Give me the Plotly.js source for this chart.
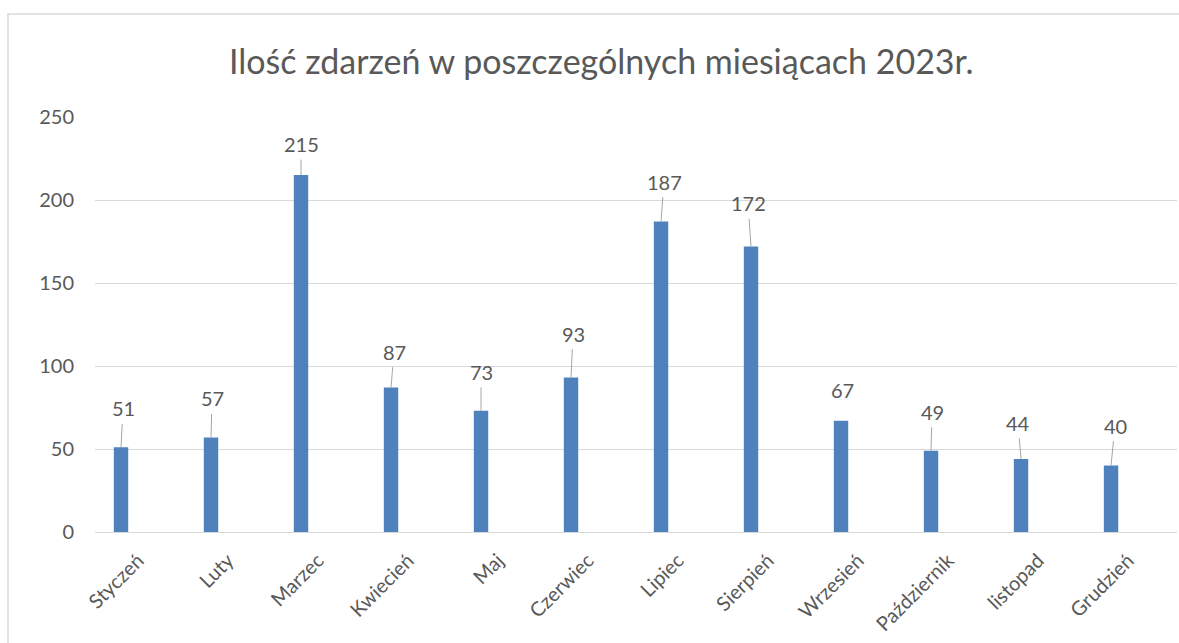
<!DOCTYPE html>
<html>
<head>
<meta charset="utf-8">
<script src="https://cdn.plot.ly/plotly-3.0.1.min.js"></script>
<style>html,body{margin:0;padding:0;background:#fff;}#chart{width:1179px;height:643px;}</style>
</head>
<body>
<div id="chart"></div>
<script>
const months = ["Styczeń","Luty","Marzec","Kwiecień","Maj","Czerwiec","Lipiec","Sierpień","Wrzesień","Październik","listopad","Grudzień"];
const counts = [51,57,215,87,73,93,187,172,67,49,44,40];
const chartTitle = "Ilość zdarzeń w poszczególnych miesiącach 2023r.";
const yTicks = [0,50,100,150,200,250];
// label placement offsets in px (callout position relative to bar top)
const labelDx = [2,1,0,3,0,2,3,-3,1,1,-3,4];
const labelDy = [-39,-39,-31,-36,-39,-44,-40,-43,-31,-39,-36,-40];
const showLeader = [true,true,true,true,true,true,true,true,false,true,true,true];

const grey = "#595959";
const font = "Lato, 'Open Sans', sans-serif";

const annotations = months.map((m,i)=>({
  x: m, y: counts[i], xref:'x', yref:'y',
  text: String(counts[i]),
  showarrow: true, arrowhead: 0, arrowwidth: 1, arrowcolor: showLeader[i] ? '#a6a6a6' : 'rgba(0,0,0,0)',
  ax: labelDx[i], ay: labelDy[i], standoff: 0, borderpad: 3,
  font: {family: font, size: 20, color: grey}
}));

const data = [{
  type: 'bar', x: months, y: counts,
  marker: {color: '#4f81bd'}, width: 0.16,
  hoverinfo: 'x+y'
}];

const layout = {
  width: 1179, height: 643,
  margin: {l: 95, r: 2, t: 117, b: 111},
  paper_bgcolor: '#fff', plot_bgcolor: '#fff',
  showlegend: false,
  title: {text: chartTitle, font: {family: font, size: 34, color: grey},
          x: 0.51, xref: 'container', xanchor: 'center', y: 1 - 62/643, yref: 'container', yanchor: 'middle'},
  xaxis: {
    type: 'category', range: [-0.289, 11.733],
    showgrid: false, zeroline: false, showline: true, linecolor: '#d9d9d9', linewidth: 1,
    ticks: '', tickangle: -45, ticklabelshift: 17, ticklabelstandoff: 8,
    tickfont: {family: font, size: 20, color: grey}
  },
  yaxis: {
    range: [0, 250], tickvals: yTicks, ticktext: yTicks.map(String),
    showgrid: true, gridcolor: '#d9d9d9', gridwidth: 1,
    zeroline: false, showline: false, ticks: '', ticklabelstandoff: 20,
    tickfont: {family: font, size: 20, color: grey}
  },
  annotations: annotations,
  shapes: [{
    type: 'rect', xref: 'paper', yref: 'paper',
    x0: -87/1082, x1: 1.05, y0: -0.35, y1: (532-14)/415,
    line: {color: '#d9d9d9', width: 1.5}, fillcolor: 'rgba(0,0,0,0)', layer: 'below'
  }]
};

Plotly.newPlot('chart', data, layout, {displayModeBar: false, staticPlot: true});
</script>
</body>
</html>
